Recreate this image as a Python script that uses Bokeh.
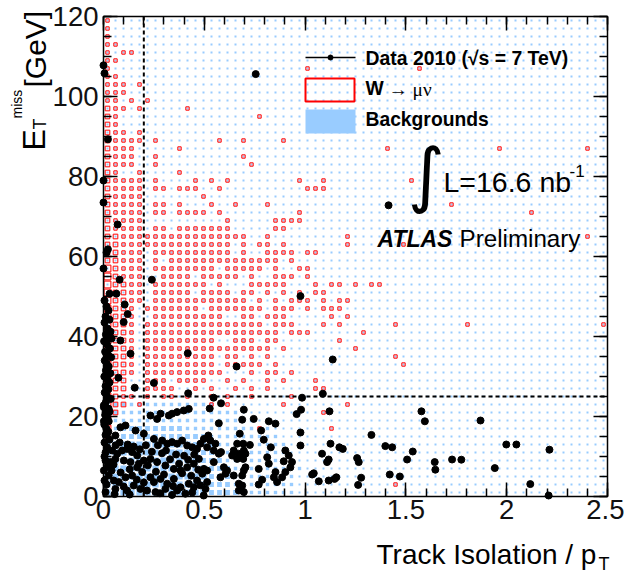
import numpy as np
from bokeh.plotting import figure
from bokeh.models import Range1d, LinearAxis, Label, FixedTicker, NumeralTickFormatter
from bokeh.embed import file_html
from bokeh.resources import INLINE

# ---------------- histogram binning ----------------
X_MAX = 2.5
Y_MAX = 120.0
N_XBINS = 63
Y_BIN = 2.0
N_YBINS = 60

X_TICKS = [0, 0.5, 1, 1.5, 2, 2.5]
X_MINOR = [0.1 * k for k in range(26)]
Y_TICKS = [0, 20, 40, 60, 80, 100, 120]
Y_MINOR = [5 * k for k in range(25)]

# Background (light blue boxes): levels per bin, rows from y=0 upward, columns from x=0.
BKG_FLOOR = 1
BKG_LOW_ROWS = [
    "44444444444443333222222211111111",
    "44444444444443332222222211111111",
    "44444444444443332222222211111111",
    "44444444444443332222222221111111",
    "44444444444433322222222211111111",
    "44444444444433322222222111111111",
    "44444444444333222222222111111111",
    "33333333333332222222221111111111",
    "22333333332222222222211111111111",
    "22222222222222222221111111111111",
    "22222222222222222111111111111111",
    "22222222222222211111111111111111",
]

# W -> mu nu (red open boxes): rows from top (y=118-120) downward, '.' = empty
SIG_ROWS_TOP_DOWN = [
    "1", "1", "1", "11", "1.11", "11", "1", "11", "111.1", "111", "11.1.1",
    "211.1.....1", "21.................1", "21", "211.1",
    "21111.1.......1..1....1", "2111.....1", "2111..1..........1",
    "2111..1...........1", "21..1....1", "21111.1....1.1.1........1..1",
    "21111.11.111..1..........111", "21111.......1", "21111.11.1...1..1...1",
    "21111.11.1111.1.........1", "21111..........1.....1111",
    "21111.11.1111111.....11", "221111111111111111..1.........1",
    "2211111111111111.1.11.1.......1", "22111.1111111111.1..1111.11",
    "22111.1.11111111111111.1", "32111.11111111.11111.1..11",
    "32111..1111.11111.1..111.1", "32211.1111111.1...11111...1.11.1",
    "32211.11111.1111.11.1.1.1.11", "32211.111111111111.1.1.111.1.11",
    "3221.1111111.1111111.111.1.111", "3221..111111111..11.111.....1.1",
    "3221.111111111111111.111...1.1", "3221.11111111111111111.111",
    "3221.111111111..111.11.......1", "3221.1111111111111111.1",
    "3221.111111111.11.1.1", "3221.111111111.11111.1",
    "3221.1111111111...1.11.1", "322..111.1111..1.1..1.1",
    "322..1111..1.1..1.1.1", "3211.1.11.1..1.1..1....1",
    "322.1........1.1......1", "32", "3", "3..................1", "2",
    "", "", "", "", "", "", "",
]
SIG_EXTRA_X = [1.01, 1.567, 1.409, 1.964, 2.401, 1.726, 2.123, 2.401, 1.488, 1.528,
               1.448, 1.806, 2.48, 1.29, 1.329, 1.369, 1.448, 1.488, 1.25, 1.448,
               1.131, 1.21, 1.091, 1.052, 1.052, 1.091]
SIG_EXTRA_Y = [107, 107, 87, 87, 86, 73, 71, 65, 63, 79,
               43, 43, 43, 41, 53, 53, 35, 33, 37, 3,
               17, 23, 21, 27, 29, 27]

# ---------------- data 2010 ----------------
DATA_X = [
    0.000, 0.005, 0.755, 0.022, 0.000, 0.000, 1.414, 0.070, 0.022, 0.015, 0.000, 0.080,
    0.240, 0.030, 0.064, 0.977, 0.105, 0.120, 0.100, 0.040, 0.084, 0.134, 0.418, 1.137,
    0.660, 0.074, 0.250, 0.155, 0.420, 1.088, 0.985, 0.546,
    0.005, 0.015, 0.025, 0.010, 0.030, 0.005, 0.020, 0.035, 0.012, 0.028, 0.003, 0.018,
    0.032, 0.008, 0.022, 0.038, 0.006, 0.016, 0.026, 0.012, 0.034, 0.004, 0.020, 0.030,
    0.010, 0.024, 0.006, 0.016, 0.036, 0.012, 0.002, 0.022, 0.030, 0.008, 0.018, 0.026,
    0.004, 0.014, 0.024, 0.010,
    0.002, 0.026, 0.010, 0.018, 0.002, 0.084, 0.109, 0.159, 0.233, 0.266, 0.283, 0.324,
    0.340, 0.365, 0.398, 0.423, 0.018, 0.059, 0.200, 0.250, 0.291, 0.316, 0.340, 0.365,
    0.390, 0.415, 0.440, 0.464, 0.481, 0.018, 0.043, 0.068, 0.092, 0.117, 0.142, 0.167,
    0.010, 0.035, 0.059, 0.101, 0.134, 0.175, 0.200, 0.233, 0.266, 0.307, 0.349, 0.382,
    0.415, 0.448, 0.473, 0.002, 0.026, 0.051, 0.076, 0.109, 0.142, 0.167, 0.192, 0.233,
    0.250, 0.283, 0.316, 0.349, 0.382, 0.423, 0.464, 0.010, 0.059, 0.117, 0.150, 0.183,
    0.216, 0.258, 0.307, 0.365, 0.406, 0.448, 0.497,
    0.005, 0.010, 0.005, 0.020, 0.005, 0.015, 0.030, 0.040, 0.060, 0.050, 0.080, 0.085,
    0.100, 0.120, 0.130, 0.150, 0.165, 0.180, 0.200, 0.210, 0.220, 0.240, 0.260, 0.270,
    0.290, 0.300, 0.310, 0.330, 0.345, 0.360, 0.375, 0.390, 0.400, 0.420, 0.435, 0.450,
    0.470, 0.480, 0.055, 0.130, 0.280, 0.340, 0.440,
    0.583, 0.696, 0.745, 0.688, 0.820, 0.572, 0.782, 0.676, 0.980, 0.958, 0.977, 0.795,
    0.693, 0.726, 0.663, 0.830, 0.520, 0.498, 0.530, 0.555, 0.514, 0.547, 0.572, 0.583,
    0.646, 0.671, 0.638, 0.663, 0.696, 0.704, 0.693, 0.902, 0.919, 0.894, 0.812, 0.820,
    0.547, 0.498, 0.514, 0.490, 0.597, 0.613, 0.605, 0.580, 0.646, 0.696, 0.688, 0.704,
    0.770, 0.787, 0.853, 0.845, 0.861, 0.902, 0.927, 0.886, 0.935, 0.506, 0.671, 0.688,
    0.671, 0.696, 0.770, 0.514, 0.977, 0.527, 0.853,
    1.121, 1.577, 1.594, 1.870, 1.329, 1.126, 1.170, 1.187, 1.398, 1.432, 1.534, 1.998,
    2.048, 2.212, 1.084, 1.117, 1.109, 1.258, 1.266, 1.506, 1.643, 1.646, 1.729, 1.775,
    1.941, 1.043, 1.035, 1.155, 1.146, 1.420, 1.470, 1.278, 1.068, 1.117, 1.263, 2.117,
    2.208,
]
DATA_Y = [
    107.8, 105.8, 105.6, 89.3, 79.0, 73.5, 72.8, 68.0, 61.8, 61.0, 57.0, 54.2,
    54.2, 50.7, 50.7, 50.1, 48.0, 45.6, 43.6, 39.5, 39.0, 35.7, 35.8, 34.25,
    32.5, 29.7, 28.4, 27.2, 25.8, 25.7, 24.7, 24.7,
    49.0, 47.5, 46.5, 45.0, 44.2, 43.5, 42.0, 41.2, 40.5, 39.5, 38.8, 38.0,
    37.0, 36.2, 35.5, 34.8, 34.0, 33.2, 32.5, 31.5, 30.8, 30.0, 29.2, 28.5,
    27.6, 26.8, 26.0, 25.2, 24.4, 23.6, 22.8, 22.0, 21.2, 20.4, 19.6, 18.8,
    18.0, 17.0, 16.2, 15.4,
    22.3, 21.9, 21.1, 19.8, 18.8, 17.3, 17.75, 16.5, 20.25, 19.4, 20.7, 20.25,
    20.7, 21.1, 21.5, 21.9, 15.7, 15.25, 15.7, 14.4, 14.0, 13.2, 13.6, 13.2,
    14.0, 12.75, 12.3, 11.9, 13.2, 12.3, 11.5, 10.7, 11.5, 11.9, 11.1, 10.25,
    9.0, 8.6, 9.4, 9.0, 8.6, 8.2, 9.0, 9.4, 8.6, 7.75, 6.9, 6.5,
    7.3, 8.2, 9.4, 6.5, 5.25, 4.0, 3.6, 4.8, 5.25, 7.3, 6.1, 4.8,
    3.6, 4.4, 3.2, 4.4, 2.3, 3.2, 4.0, 1.1, 1.9, 1.5, 2.75, 1.9,
    1.5, 1.1, 1.9, 1.5, 0.7, 2.3, 0.25,
    13.5, 11.0, 10.0, 7.5, 4.0, 3.0, 14.2, 6.5, 12.8, 8.0, 13.5, 6.0,
    2.5, 13.0, 6.8, 12.5, 4.2, 11.8, 3.5, 12.8, 7.8, 11.2, 6.2, 12.8,
    10.8, 5.5, 11.5, 9.3, 2.6, 10.5, 8.2, 5.8, 10.2, 9.2, 5.2, 10.5,
    6.7, 2.8, 0.6, 0.5, 0.8, 0.4, 1.0,
    23.3, 21.7, 19.4, 19.2, 18.8, 18.3, 16.5, 15.7, 21.7, 20.6, 16.0, 14.2,
    13.2, 12.9, 13.2, 12.3, 15.25, 14.4, 14.0, 13.2, 12.3, 11.5, 10.7, 11.1,
    11.5, 10.7, 10.25, 9.4, 11.5, 10.7, 9.4, 11.5, 10.25, 8.8, 9.8, 8.2,
    8.6, 6.9, 6.5, 5.7, 7.3, 6.5, 5.7, 4.8, 5.25, 6.5, 5.25, 7.3,
    6.9, 4.2, 6.1, 4.8, 3.6, 6.1, 7.3, 4.8, 8.6, 1.9, 3.2, 2.75,
    1.5, 1.1, 3.0, 3.6, 12.75, 22.0, 18.2,
    21.3, 21.3, 18.8, 19.0, 15.4, 13.2, 12.3, 11.9, 12.6, 12.3, 11.25, 13.0,
    13.0, 11.7, 10.7, 9.25, 8.6, 9.6, 8.6, 9.25, 8.6, 6.7, 9.25, 9.2,
    7.1, 5.8, 5.5, 4.8, 4.4, 5.5, 5.0, 4.7, 3.8, 4.0, 2.9, 3.1,
    0.25,
]

CUT_ISO = 0.2
CUT_MET = 25.0

# ---------------- styles / layout ----------------
BLUE = "#99ccff"
RED = "#ff0000"
BKG_FRAC = {1: 0.25, 2: 0.42, 3: 0.6, 4: 0.78}
SIG_FRAC = {1: 0.42, 2: 0.58, 3: 0.85}
FONT = "Liberation Sans"

W, H = 624, 575
# frame placement on the canvas (pixels)
FL, FR, FT, FB = 103, 607, 16, 496
SX = (FR - FL) / X_MAX
SY = (FB - FT) / Y_MAX


def dx(px):
    return (px - FL) / SX


def dy(py):
    return (FB - py) / SY


xw = X_MAX / N_XBINS

p = figure(width=W, height=H, x_range=Range1d(dx(0), dx(W)), y_range=Range1d(dy(H), dy(0)),
           output_backend="svg", toolbar_location=None, min_border=0, title=None)
p.background_fill_color = "white"
p.border_fill_color = "white"
p.outline_line_color = None
p.grid.visible = False

# background boxes
bx, by, bw, bh = [], [], [], []
for j in range(N_YBINS):
    row = BKG_LOW_ROWS[j] if j < len(BKG_LOW_ROWS) else ""
    for i in range(N_XBINS):
        lvl = int(row[i]) if i < len(row) else BKG_FLOOR
        f = BKG_FRAC[lvl]
        bx.append((i + 0.5) * xw)
        by.append((j + 0.5) * Y_BIN)
        bw.append(xw * f)
        bh.append(Y_BIN * f)
p.rect(x=bx, y=by, width=bw, height=bh, fill_color=BLUE, line_color=None)

# signal boxes
sx, sy, sw, sh = [], [], [], []
for k, row in enumerate(SIG_ROWS_TOP_DOWN):
    j = N_YBINS - 1 - k
    for i, ch in enumerate(row):
        if ch == ".":
            continue
        f = SIG_FRAC[int(ch)]
        sx.append((i + 0.5) * xw)
        sy.append((j + 0.5) * Y_BIN)
        sw.append(xw * f)
        sh.append(Y_BIN * f)
for x, y in zip(SIG_EXTRA_X, SIG_EXTRA_Y):
    i = int(x // xw)
    j = int(y // Y_BIN)
    f = SIG_FRAC[1]
    sx.append((i + 0.5) * xw)
    sy.append((j + 0.5) * Y_BIN)
    sw.append(xw * f)
    sh.append(Y_BIN * f)
p.rect(x=sx, y=sy, width=sw, height=sh, fill_color=None, line_color=RED, line_width=1)

# cut lines
p.line([CUT_ISO, CUT_ISO], [0, Y_MAX], line_color="black", line_width=2, line_dash="4 3")
p.line([0, X_MAX], [CUT_MET, CUT_MET], line_color="black", line_width=2, line_dash="4 3")

# data
p.scatter(DATA_X, DATA_Y, size=7, color="black")

# frame
p.rect(x=[X_MAX / 2], y=[Y_MAX / 2], width=[X_MAX], height=[Y_MAX],
       fill_color=None, line_color="black", line_width=1.5)

# ---------------- axes (fixed at the frame edges) ----------------
def style_axis(ax, labels=True):
    ax.major_tick_in = 14
    ax.major_tick_out = 0
    ax.minor_tick_in = 8
    ax.minor_tick_out = 0
    ax.major_tick_line_color = "black"
    ax.minor_tick_line_color = "black"
    ax.major_tick_line_width = 1.5
    ax.minor_tick_line_width = 1.5
    ax.axis_line_color = None
    if labels:
        ax.major_label_text_font = FONT
        ax.major_label_text_font_size = "27.5px"
        ax.major_label_text_color = "#111111"
    else:
        ax.major_label_text_color = None


xa = p.xaxis[0]
xa.fixed_location = 0
xa.ticker = FixedTicker(ticks=X_TICKS, minor_ticks=X_MINOR)
xa.formatter = NumeralTickFormatter(format="0.[0]")
style_axis(xa)
xa.major_label_standoff = 3

ya = p.yaxis[0]
ya.fixed_location = 0
ya.ticker = FixedTicker(ticks=Y_TICKS, minor_ticks=Y_MINOR)
style_axis(ya)
ya.major_label_standoff = 5

top = LinearAxis(fixed_location=Y_MAX, ticker=FixedTicker(ticks=X_TICKS, minor_ticks=X_MINOR))
style_axis(top, labels=False)
p.add_layout(top, "above")
right = LinearAxis(fixed_location=X_MAX, ticker=FixedTicker(ticks=Y_TICKS, minor_ticks=Y_MINOR))
style_axis(right, labels=False)
p.add_layout(right, "right")


# ---------------- texts (positions in canvas pixels, anchored at text middle) ----------------
def lab(text, px, py, size, font=FONT, style="normal", angle=0, align="left",
        baseline="middle"):
    p.add_layout(Label(x=dx(px), y=dy(py), text=text, text_font=font,
                       text_font_size=size, text_font_style=style, angle=angle,
                       text_align=align, text_baseline=baseline, text_color="black"))


# y title  E_T^miss [GeV]
lab("E", 33.5, 150, "32px", angle=np.pi / 2)
lab("T", 39, 129, "18px", angle=np.pi / 2)
lab("miss", 16, 118, "14px", angle=np.pi / 2)
lab("[GeV]", 34.5, 87, "30px", angle=np.pi / 2)
# x title
lab("Track Isolation / p", 376, 553.5, "28px")
lab("T", 598, 563.5, "18px")

# legend
p.line([dx(305), dx(355)], [dy(57), dy(57)], line_color="black", line_width=1.5)
p.scatter([dx(330)], [dy(57)], size=5, color="black")
p.rect([dx(329.5)], [dy(89.5)], width=[49 / SX], height=[23 / SY],
       fill_color=None, line_color=RED, line_width=2)
p.rect([dx(330)], [dy(121)], width=[50 / SX], height=[24 / SY],
       fill_color=BLUE, line_color=None)
lab("Data 2010 (\u221as = 7 TeV)", 365, 57, "19.4px", style="bold")
lab("W", 365, 88, "19.3px", style="bold")
lab("\u2192 \u03bc\u03bd", 388, 89, "19.3px", font="Liberation Serif")
lab("Backgrounds", 365, 118.5, "19.3px", style="bold")

lab("\u222b", 426, 174, "71px", font="DejaVu Sans", align="center", baseline="alphabetic")
lab("L=16.6 nb", 443, 181, "28.5px")
lab("-1", 569, 170, "17px")
lab("ATLAS", 377, 238, "23px", style="bold italic")
lab("Preliminary", 459, 238, "24.2px")

open("out.html", "w").write(file_html(p, INLINE))
